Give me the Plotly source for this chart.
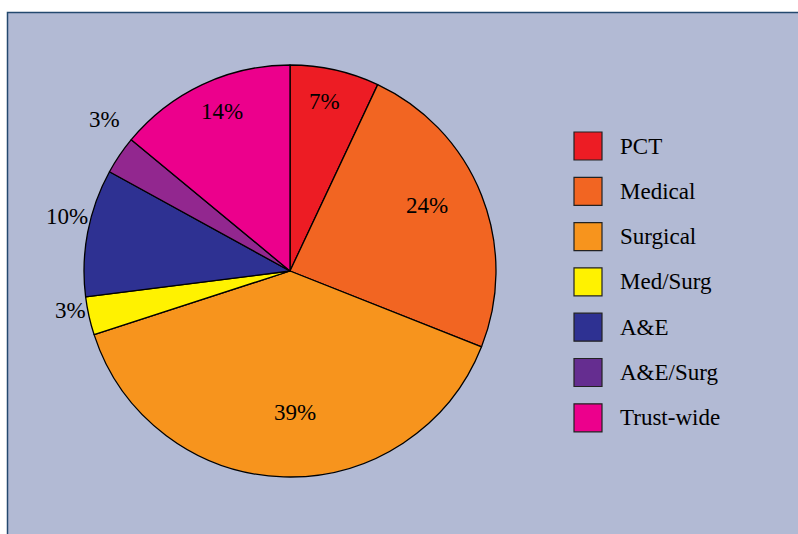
import math
import plotly.graph_objects as go

categories = ["PCT", "Medical", "Surgical", "Med/Surg", "A&E", "A&E/Surg", "Trust-wide"]
values = [7, 24, 39, 3, 10, 3, 14]
slice_colors = ["#ed1c24", "#f26522", "#f7941d", "#fff200", "#2e3192", "#92278f", "#ec008c"]
legend_colors = ["#ed1c24", "#f26522", "#f7941d", "#fff200", "#2e3192", "#652d90", "#ec008c"]

# label placement: radial distance (fraction of radius) and angular nudge (degrees)
label_radius = [0.84, 0.74, 0.685, 1.08, 1.115, 1.165, 0.84]
label_shift = [-1, -4, -4, 2.5, 3, 5, 2]

W, H = 798, 534
FONT = "Liberation Serif"
CX, CY, R = 290, 271, 206

fig = go.Figure()
fig.add_trace(go.Pie(
    labels=categories,
    values=values,
    sort=False,
    direction="clockwise",
    rotation=0,
    marker=dict(colors=slice_colors, line=dict(color="black", width=1.3)),
    textinfo="none",
    domain=dict(x=[(CX - R) / W, (CX + R) / W],
                y=[(H - CY - R) / H, (H - CY + R) / H]),
    showlegend=False,
    hoverinfo="label+percent",
))

shapes = [dict(type="rect", xref="paper", yref="paper",
               x0=7.5 / W, x1=1.02, y0=-0.02, y1=1 - 12.5 / H,
               fillcolor="#b2bad4", line=dict(color="#24496f", width=1.5),
               layer="below")]
annotations = []

# percentage labels derived from the values
total = sum(values)
cum = 0
for v, rf, sh in zip(values, label_radius, label_shift):
    mid = (cum + v / 2) / total * 2 * math.pi + math.radians(sh)
    cum += v
    dx = math.sin(mid) * R * rf
    dy = -math.cos(mid) * R * rf
    annotations.append(dict(xref="paper", yref="paper",
                            x=(CX + dx) / W, y=1 - (CY + dy) / H,
                            text=f"{round(v / total * 100)}%", showarrow=False,
                            xanchor="center", yanchor="middle",
                            font=dict(family=FONT, size=23, color="black")))

# legend
for i, (name, col) in enumerate(zip(categories, legend_colors)):
    yc = 146 + i * 45.3
    shapes.append(dict(type="rect", xref="paper", yref="paper",
                       x0=574 / W, x1=602 / W,
                       y0=1 - (yc + 14) / H, y1=1 - (yc - 14) / H,
                       fillcolor=col, line=dict(color="#222222", width=1.2)))
    annotations.append(dict(xref="paper", yref="paper", x=618 / W, y=1 - yc / H,
                            text=name, showarrow=False, xanchor="left", yanchor="middle",
                            font=dict(family=FONT, size=23, color="black")))

fig.update_layout(
    width=W, height=H,
    margin=dict(l=0, r=0, t=0, b=0),
    paper_bgcolor="white",
    plot_bgcolor="white",
    shapes=shapes,
    annotations=annotations,
)

fig.write_html("out.html", config={"displayModeBar": False},
               post_script="document.body.style.margin='0';")
